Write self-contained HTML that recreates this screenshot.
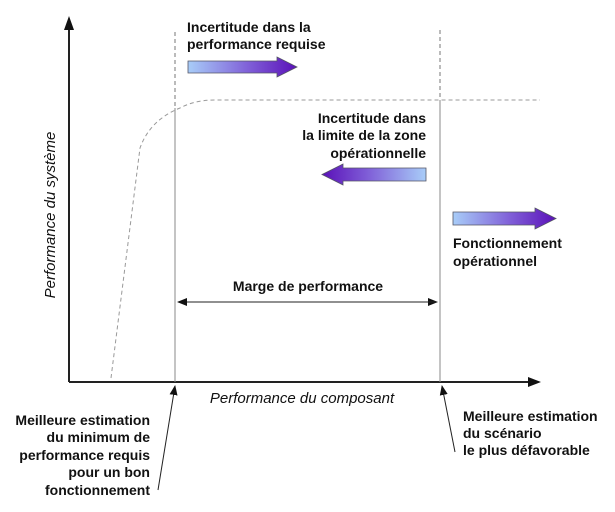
<!DOCTYPE html>
<html><head><meta charset="utf-8"><style>
html,body{margin:0;padding:0;background:#fff;}
svg{display:block;}
text{font-family:"Liberation Sans",Arial,sans-serif;font-size:14px;fill:#111;}
.b{font-weight:bold;}
.i{font-style:italic;font-size:15px;}
</style></head><body>
<svg width="615" height="512" viewBox="0 0 615 512" xmlns="http://www.w3.org/2000/svg">
<defs>
<linearGradient id="gr" x1="0" x2="1" y1="0" y2="0"><stop offset="0" stop-color="#a8cdf8"/><stop offset="0.55" stop-color="#8060d8"/><stop offset="1" stop-color="#5a10b8"/></linearGradient>
<linearGradient id="gl" x1="1" x2="0" y1="0" y2="0"><stop offset="0" stop-color="#a8cdf8"/><stop offset="0.55" stop-color="#8060d8"/><stop offset="1" stop-color="#5a10b8"/></linearGradient>
<marker id="ah" markerWidth="10" markerHeight="8" refX="9" refY="4" orient="auto" markerUnits="userSpaceOnUse"><path d="M0,0 L10,4 L0,8 z" fill="#111"/></marker>
</defs>
<line x1="69" y1="382" x2="69" y2="28" stroke="#222" stroke-width="2"/>
<path d="M64,30 L69,16 L74,30 z" fill="#111"/>
<line x1="69" y1="382" x2="530" y2="382" stroke="#222" stroke-width="2"/>
<path d="M528,377 L541,382 L528,387 z" fill="#111"/>
<line x1="175" y1="32" x2="175" y2="108" stroke="#777" stroke-dasharray="4,3"/>
<line x1="175" y1="108" x2="175" y2="382" stroke="#888"/>
<line x1="440" y1="30" x2="440" y2="100" stroke="#777" stroke-dasharray="4,3"/>
<line x1="440" y1="100" x2="440" y2="382" stroke="#888"/>
<path d="M111,378 L140,148 Q150,120 180,108 Q195,100 215,100 L540,100" fill="none" stroke="#999" stroke-dasharray="4,3"/>
<path d="M188,61 L277,61 L277,57 L297,67 L277,77 L277,73 L188,73 z" fill="url(#gr)" stroke="#556" stroke-width="0.8"/>
<path d="M426,168 L343,168 L343,164 L322,174.5 L343,185 L343,181 L426,181 z" fill="url(#gl)" stroke="#556" stroke-width="0.8"/>
<path d="M453,212 L535,212 L535,208 L556,218.5 L535,229 L535,225 L453,225 z" fill="url(#gr)" stroke="#556" stroke-width="0.8"/>
<line x1="178" y1="302" x2="437" y2="302" stroke="#222" marker-end="url(#ah)"/>
<line x1="437" y1="302" x2="178" y2="302" stroke="#222" marker-end="url(#ah)"/>
<text class="b" x="308" y="291" text-anchor="middle">Marge de performance</text>
<line x1="158" y1="490" x2="175" y2="386" stroke="#222" marker-end="url(#ah)"/>
<line x1="455" y1="452" x2="442" y2="386" stroke="#222" marker-end="url(#ah)"/>
<text class="b" x="187" y="32">Incertitude dans la</text>
<text class="b" x="187" y="49">performance requise</text>
<text class="b" x="426" y="123" text-anchor="end">Incertitude dans</text>
<text class="b" x="426" y="140" text-anchor="end">la limite de la zone</text>
<text class="b" x="426" y="158" text-anchor="end">opérationnelle</text>
<text class="b" x="453" y="248">Fonctionnement</text>
<text class="b" x="453" y="266">opérationnel</text>
<text class="i" x="302" y="403" text-anchor="middle">Performance du composant</text>
<text class="i" x="55" y="215" text-anchor="middle" transform="rotate(-90 55 215)">Performance du système</text>
<text class="b" x="150" y="425" text-anchor="end">Meilleure estimation</text>
<text class="b" x="150" y="442" text-anchor="end">du minimum de</text>
<text class="b" x="150" y="460" text-anchor="end">performance requis</text>
<text class="b" x="150" y="477" text-anchor="end">pour un bon</text>
<text class="b" x="150" y="495" text-anchor="end">fonctionnement</text>
<text class="b" x="463" y="421">Meilleure estimation</text>
<text class="b" x="463" y="438">du scénario</text>
<text class="b" x="463" y="455">le plus défavorable</text>
</svg>
</body></html>
